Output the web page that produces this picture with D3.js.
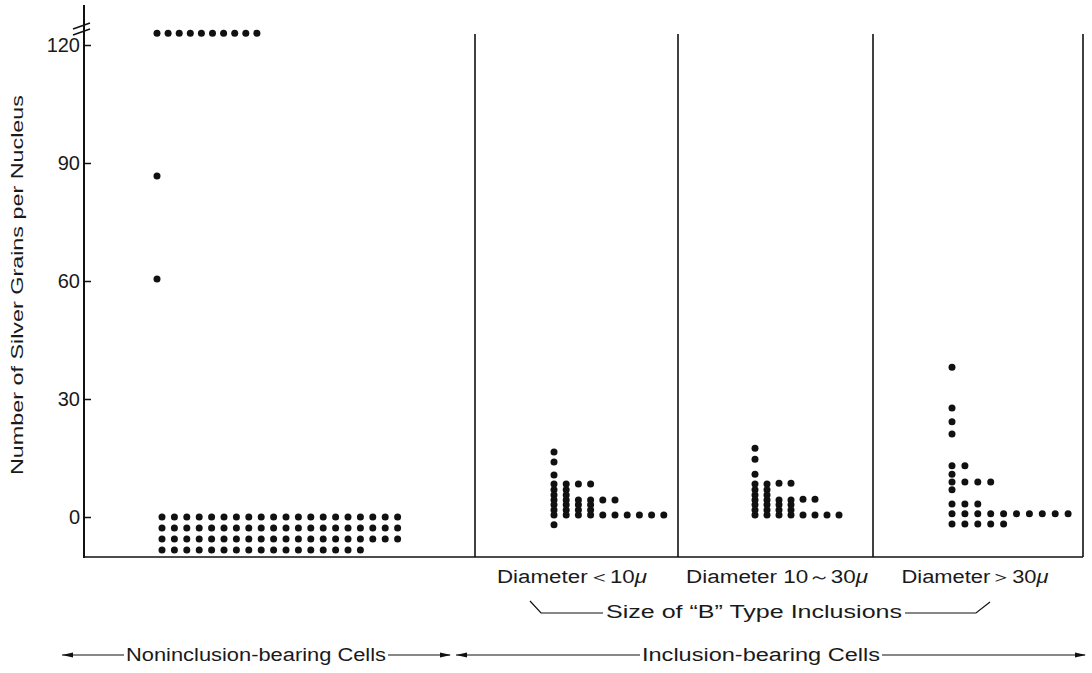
<!DOCTYPE html>
<html><head><meta charset="utf-8">
<script src="https://cdn.jsdelivr.net/npm/d3@7"></script>
<style>
html,body{margin:0;padding:0;background:#fff;}
svg{display:block;}
text{font-family:"Liberation Sans Narrow","Liberation Sans",Arial,sans-serif;fill:#1a1a1a;}
</style></head><body>
<svg id="chart" width="1092" height="673"></svg>
<script>
// ---------------- data ----------------
const yTicks = [0, 30, 60, 90, 120];
const yTitle = "Number of Silver Grains per Nucleus";
const panelLabels = ["Diameter＜10", "Diameter 10～30", "Diameter＞30"];
const muLabel = "μ";
const sizeLabel = "Size of “B” Type Inclusions";
const groupLabels = ["Noninclusion-bearing Cells", "Inclusion-bearing Cells"];

// Noninclusion-bearing cells: high values (above the break) and outliers
const nonHighCols = [
  [123, 86.7, 60.5], [123], [123], [123], [123],
  [123], [123], [123], [123], [123]
];
// Noninclusion-bearing cells: stacked dots at ~0
const nonLowCols = [
  [0, -2.8, -5.6, -8.4], [0, -2.8, -5.6, -8.4], [0, -2.8, -5.6, -8.4], [0, -2.8, -5.6, -8.4],
  [0, -2.8, -5.6, -8.4], [0, -2.8, -5.6, -8.4], [0, -2.8, -5.6, -8.4], [0, -2.8, -5.6, -8.4],
  [0, -2.8, -5.6, -8.4], [0, -2.8, -5.6, -8.4], [0, -2.8, -5.6, -8.4], [0, -2.8, -5.6, -8.4],
  [0, -2.8, -5.6, -8.4], [0, -2.8, -5.6, -8.4], [0, -2.8, -5.6, -8.4], [0, -2.8, -5.6, -8.4],
  [0, -2.8, -5.6, -8.4], [0, -2.8, -5.6], [0, -2.8, -5.6], [0, -2.8, -5.6]
];
// Inclusion diameter < 10 μ
const smallCols = [
  [16.5, 14.0, 10.7, 8.4, 6.9, 5.6, 4.3, 3.1, 1.8, 0.5, -2.0],
  [8.4, 6.9, 5.6, 4.3, 3.1, 1.8, 0.5],
  [8.4, 4.3, 3.1, 1.8, 0.5],
  [8.4, 4.3, 3.1, 1.8, 0.5],
  [4.3, 0.5], [4.3, 0.5],
  [0.5], [0.5], [0.5], [0.5]
];
// Inclusion diameter 10 ~ 30 μ
const mediumCols = [
  [17.5, 14.7, 10.9, 8.4, 6.9, 5.6, 4.3, 3.1, 1.8, 0.5],
  [8.4, 6.9, 5.6, 4.3, 3.1, 1.8, 0.5],
  [8.6, 4.3, 3.1, 1.8, 0.5],
  [8.6, 4.3, 3.1, 1.8, 0.5],
  [4.5, 0.5], [4.5, 0.5],
  [0.5], [0.5]
];
// Inclusion diameter > 30 μ
const largeCols = [
  [38.1, 27.7, 24.2, 21.1, 13.0, 10.9, 8.9, 6.9, 3.3, 0.8, -1.8],
  [13.0, 8.9, 3.3, 0.8, -1.8],
  [8.9, 3.3, 0.8, -1.8],
  [8.9, 0.8, -1.8],
  [0.8, -1.8],
  [0.8], [0.8], [0.8], [0.8], [0.8]
];

// ---------------- layout ----------------
const svg = d3.select("#chart");
const axisX = 84, axisTop = 5, baseY = 557, panelTop = 34;
const panelEdges = [84, 475, 678, 873, 1083];
const y = d3.scaleLinear().domain([0, 120]).range([517, 45]);
const R = 3.5;
const ink = "#111";

// column scales (column index -> x)
const colScale = (left, step) => d3.scaleLinear().domain([0, 1]).range([left, left + step]);
const groups = [
  {cols: nonHighCols, x: colScale(panelEdges[0] + 73, 11.1)},
  {cols: nonLowCols,  x: colScale(panelEdges[0] + 78, 12.4)},
  {cols: smallCols,   x: colScale(panelEdges[1] + 79, 12.2)},
  {cols: mediumCols,  x: colScale(panelEdges[2] + 77, 12.0)},
  {cols: largeCols,   x: colScale(panelEdges[3] + 79, 12.9)}
];

// frame lines
const g = svg.append("g");
g.append("line").attr("x1", axisX).attr("x2", axisX).attr("y1", axisTop).attr("y2", baseY + 1)
  .attr("stroke", ink).attr("stroke-width", 2);
g.append("line").attr("x1", axisX).attr("x2", panelEdges[4]).attr("y1", baseY).attr("y2", baseY)
  .attr("stroke", ink).attr("stroke-width", 1.6);
panelEdges.slice(1).forEach(px => {
  g.append("line").attr("x1", px).attr("x2", px).attr("y1", panelTop).attr("y2", baseY)
    .attr("stroke", ink).attr("stroke-width", 1.6);
});

// axis break marks
[0, 6].forEach(d => {
  g.append("line").attr("x1", axisX - 11).attr("y1", 29 + d).attr("x2", axisX + 6).attr("y2", 23 + d)
    .attr("stroke", ink).attr("stroke-width", 1.5);
});

// y axis ticks
const yAxis = d3.axisLeft(y).tickValues(yTicks).tickSizeInner(-7).tickSizeOuter(0).tickPadding(4);
const ag = svg.append("g").attr("transform", `translate(${axisX},0)`).call(yAxis);
ag.select(".domain").remove();
ag.selectAll(".tick line").attr("stroke", ink).attr("stroke-width", 1.5);
ag.selectAll(".tick text").attr("font-size", 20).attr("fill", "#1a1a1a")
  .style("font-family", '"Liberation Sans Narrow","Liberation Sans",Arial,sans-serif');

// y title
svg.append("text").attr("transform", "translate(23,285) rotate(-90)")
  .attr("text-anchor", "middle").attr("font-size", 17)
  .attr("textLength", 380).attr("lengthAdjust", "spacingAndGlyphs").text(yTitle);

// dots
groups.forEach(grp => {
  const pts = [];
  grp.cols.forEach((col, i) => col.forEach(v => pts.push({i, v})));
  svg.append("g").selectAll("circle").data(pts).join("circle")
    .attr("cx", d => grp.x(d.i)).attr("cy", d => y(d.v)).attr("r", R).attr("fill", ink);
});

// panel labels
const labelCenters = [572, 777, 975];
const labelWidths = [150, 182, 147];
panelLabels.forEach((lab, i) => {
  const t = svg.append("text").attr("x", labelCenters[i]).attr("y", 583)
    .attr("text-anchor", "middle").attr("font-size", 18)
    .attr("textLength", labelWidths[i]).attr("lengthAdjust", "spacingAndGlyphs");
  t.append("tspan").text(lab);
  t.append("tspan").attr("font-style", "italic").text(muLabel);
});

// size bracket
svg.append("text").attr("x", 754).attr("y", 618).attr("text-anchor", "middle").attr("font-size", 18)
  .attr("textLength", 296).attr("lengthAdjust", "spacingAndGlyphs").text(sizeLabel);
svg.append("path").attr("d", "M530,601 L541,613 L603,613").attr("fill", "none").attr("stroke", ink).attr("stroke-width", 1.2);
svg.append("path").attr("d", "M905,613 L976,613 L990,602").attr("fill", "none").attr("stroke", ink).attr("stroke-width", 1.2);

// group labels with arrows
const arrowY = 655;
function arrowhead(x, dir) {
  svg.append("path").attr("d", `M${x},${arrowY} L${x - dir * 11},${arrowY - 2.6} L${x - dir * 11},${arrowY + 2.6} Z`)
    .attr("fill", ink);
}
function hline(x1, x2) {
  svg.append("line").attr("x1", x1).attr("x2", x2).attr("y1", arrowY).attr("y2", arrowY)
    .attr("stroke", ink).attr("stroke-width", 1.2);
}
svg.append("text").attr("x", 256).attr("y", arrowY + 6).attr("text-anchor", "middle").attr("font-size", 18)
  .attr("textLength", 260).attr("lengthAdjust", "spacingAndGlyphs").text(groupLabels[0]);
hline(62, 124); arrowhead(62, -1);
hline(388, 450); arrowhead(451, 1);
arrowhead(456, -1);
hline(456, 640);
svg.append("text").attr("x", 761).attr("y", arrowY + 6).attr("text-anchor", "middle").attr("font-size", 18)
  .attr("textLength", 238).attr("lengthAdjust", "spacingAndGlyphs").text(groupLabels[1]);
hline(882, 1085); arrowhead(1086, 1);
</script>
</body></html>
